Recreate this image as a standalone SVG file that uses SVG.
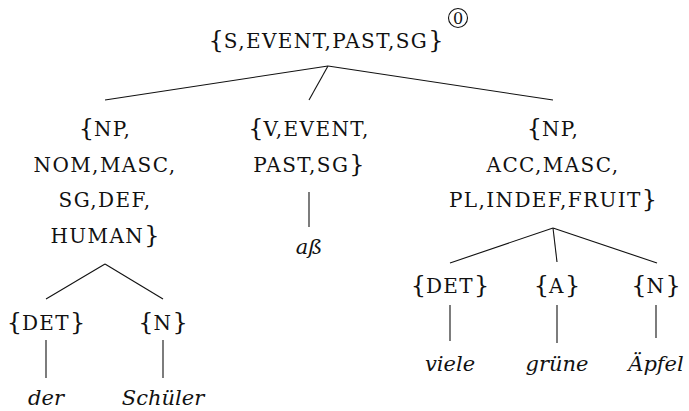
<svg xmlns="http://www.w3.org/2000/svg" width="689" height="411" viewBox="0 0 689 411">
<style>
.sc{font-family:'DejaVu Serif','Liberation Serif',serif;font-size:20px;letter-spacing:1.4px;fill:#111;text-anchor:middle}
.br{font-size:24px;letter-spacing:0}
.it{font-family:'DejaVu Serif','Liberation Serif',serif;font-style:italic;font-size:21px;fill:#111;text-anchor:middle}
.edge{stroke:#111;stroke-width:1.1;fill:none}
</style>
<rect width="689" height="411" fill="#fff"/>
<g id="connectors">
<line class="edge" x1="328" y1="66" x2="105" y2="100"/>
<line class="edge" x1="328" y1="66" x2="309" y2="100"/>
<line class="edge" x1="328" y1="66" x2="553" y2="100"/>
<line class="edge" x1="309" y1="192" x2="309" y2="227"/>
<line class="edge" x1="105" y1="264" x2="46" y2="299"/>
<line class="edge" x1="105" y1="264" x2="163" y2="299"/>
<line class="edge" x1="46" y1="340" x2="46" y2="378"/>
<line class="edge" x1="163" y1="340" x2="163" y2="378"/>
<line class="edge" x1="553" y1="228" x2="450" y2="263"/>
<line class="edge" x1="553" y1="228" x2="557" y2="262"/>
<line class="edge" x1="553" y1="228" x2="657" y2="263"/>
<line class="edge" x1="450" y1="305" x2="450" y2="341"/>
<line class="edge" x1="557" y1="305" x2="557" y2="343"/>
<line class="edge" x1="656" y1="305" x2="656" y2="338"/>
</g>
<g id="root">
<text class="sc" x="326" y="48"><tspan class="br">{</tspan>S,EVENT,PAST,SG<tspan class="br">}</tspan></text>
<circle cx="458" cy="18" r="9.5" fill="none" stroke="#111" stroke-width="1.1"/>
<text x="458" y="24" font-family="DejaVu Serif, serif" font-size="16" text-anchor="middle" fill="#111">0</text>
</g>
<g id="np-nom">
<text class="sc" x="105" y="136"><tspan class="br">{</tspan>NP,</text>
<text class="sc" x="105" y="172">NOM,MASC,</text>
<text class="sc" x="105" y="207">SG,DEF,</text>
<text class="sc" x="105" y="243">HUMAN<tspan class="br">}</tspan></text>
</g>
<g id="v">
<text class="sc" x="309" y="136"><tspan class="br">{</tspan>V,EVENT,</text>
<text class="sc" x="309" y="172">PAST,SG<tspan class="br">}</tspan></text>
</g>
<g id="np-acc">
<text class="sc" x="553" y="136"><tspan class="br">{</tspan>NP,</text>
<text class="sc" x="553" y="172">ACC,MASC,</text>
<text class="sc" x="553" y="207">PL,INDEF,FRUIT<tspan class="br">}</tspan></text>
</g>
<g id="w-ass"><text class="it" x="309" y="254">aß</text></g>
<g id="det1"><text class="sc" x="46" y="330"><tspan class="br">{</tspan>DET<tspan class="br">}</tspan></text></g>
<g id="n1"><text class="sc" x="163" y="330"><tspan class="br">{</tspan>N<tspan class="br">}</tspan></text></g>
<g id="w-der"><text class="it" x="46" y="405">der</text></g>
<g id="w-schueler"><text class="it" x="163" y="405">Schüler</text></g>
<g id="det2"><text class="sc" x="450" y="293"><tspan class="br">{</tspan>DET<tspan class="br">}</tspan></text></g>
<g id="a"><text class="sc" x="557" y="293"><tspan class="br">{</tspan>A<tspan class="br">}</tspan></text></g>
<g id="n2"><text class="sc" x="656" y="293"><tspan class="br">{</tspan>N<tspan class="br">}</tspan></text></g>
<g id="w-viele"><text class="it" x="450" y="371">viele</text></g>
<g id="w-gruene"><text class="it" x="557" y="371">grüne</text></g>
<g id="w-aepfel"><text class="it" x="656" y="371">Äpfel</text></g>
</svg>
